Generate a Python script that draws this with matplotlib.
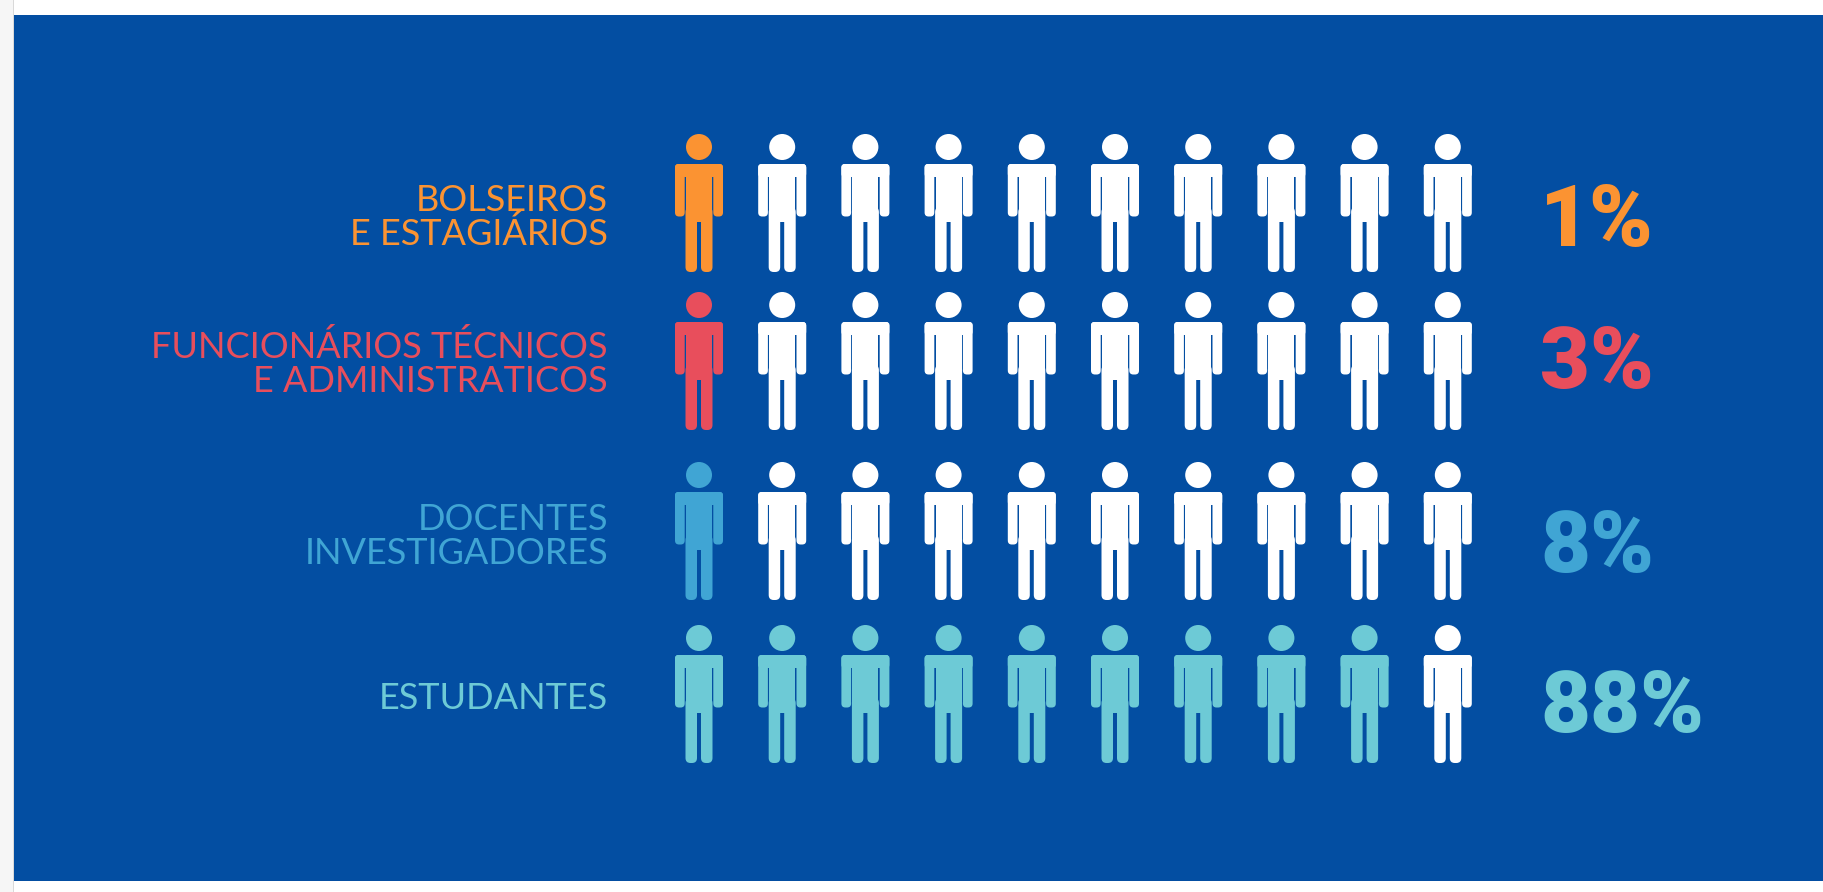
import matplotlib
matplotlib.use("Agg")
import matplotlib.pyplot as plt
from matplotlib.patches import Circle, FancyBboxPatch, Rectangle

# dados
categorias = ["BOLSEIROS\nE ESTAGIÁRIOS", "FUNCIONÁRIOS TÉCNICOS\nE ADMINISTRATICOS",
              "DOCENTES\nINVESTIGADORES", "ESTUDANTES"]
percentagens = [1, 3, 8, 88]
icones_cheios = [1, 1, 1, 9]
cores = ["#FB9332", "#E84E5C", "#40A5D4", "#6DCAD6"]
total_icones = 10

AZUL = "#034EA2"

fig = plt.figure(figsize=(18.24, 8.92), dpi=100, facecolor="white")
ax = fig.add_axes([0, 0, 1, 1])
ax.set_xlim(0, 1824)
ax.set_ylim(892, 0)
ax.axis("off")

# fundo
ax.add_patch(Rectangle((0, 0), 13, 892, fc="#F6F6F6", ec="none"))
ax.add_patch(Rectangle((13, 0), 1.5, 892, fc="#D9D9D9", ec="none"))
ax.add_patch(Rectangle((14.5, 15), 1810, 866, fc=AZUL, ec="none"))


def barra(x0, y0, x1, y1, cor, r=4):
    ax.add_patch(FancyBboxPatch((x0 + r, y0 + r), x1 - x0 - 2 * r, y1 - y0 - 2 * r,
                                boxstyle=f"round,pad={r},rounding_size={r}",
                                fc=cor, ec="none"))


def pessoa(cx, cy, cor):
    # cy e o centro da cabeca
    ax.add_patch(Circle((cx, cy), 13, fc=cor, ec="none"))
    barra(cx - 24, cy + 17, cx + 24, cy + 30, cor, r=3)      # ombros
    barra(cx - 24, cy + 17, cx - 14.3, cy + 69.5, cor)       # bracos
    barra(cx + 14.3, cy + 17, cx + 24, cy + 69.5, cor)
    ax.add_patch(Rectangle((cx - 13, cy + 17), 26, 58, fc=cor, ec="none"))  # tronco
    barra(cx - 13.5, cy + 60, cx - 2, cy + 125, cor, r=5)    # pernas
    barra(cx + 2, cy + 60, cx + 13.5, cy + 125, cor, r=5)


col_x0, col_passo = 699, 83.2
linhas_y = [147, 305, 475, 638]
base_rotulo = [(211, 245), (358, 392), (530, 564), (709,)]
base_pct = [246, 388, 572, 732]

for i, cat in enumerate(categorias):
    for j in range(total_icones):
        cor = cores[i] if j < icones_cheios[i] else "white"
        pessoa(col_x0 + j * col_passo, linhas_y[i], cor)

    for linha, base in zip(cat.split("\n"), base_rotulo[i]):
        ax.text(608, base, linha, color=cores[i], ha="right", va="baseline",
                family="Lato", weight="normal", fontsize=26)

    ax.text(1540, base_pct[i], f"{percentagens[i]}%", color=cores[i], ha="left",
            va="baseline", family="Roboto", weight="black", fontsize=62)

fig.savefig("out.png", dpi=100, facecolor="white")
